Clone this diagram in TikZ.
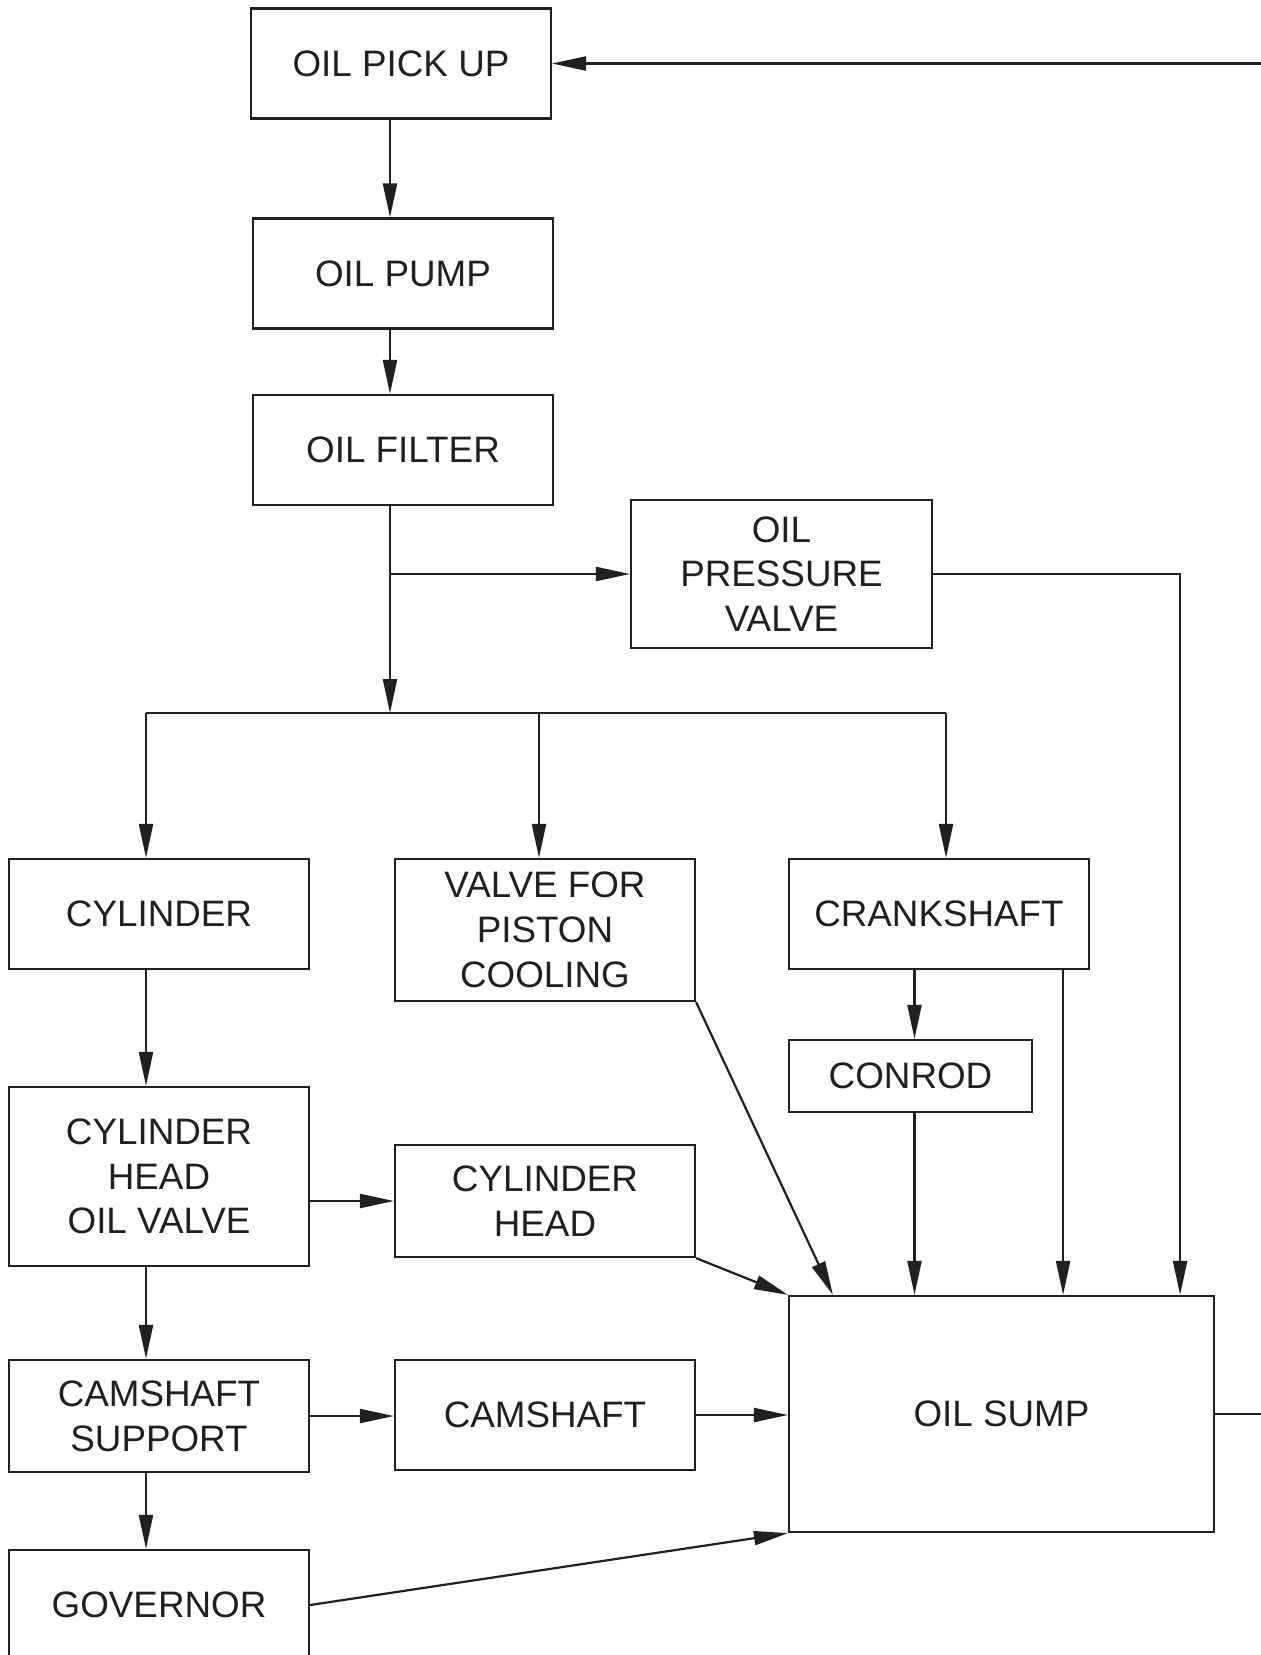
\documentclass[tikz,border=0pt]{standalone}
\usepackage{fontspec}
\setmainfont{Liberation Sans}
\usetikzlibrary{arrows.meta}
\definecolor{ink}{HTML}{231F20}

\begin{document}
\begin{tikzpicture}[x=0.5pt, y=-0.5pt, line width=1.1pt, color=ink,
    main/.style = {draw, rectangle, align=center, inner sep=0pt, minimum width=150pt, minimum height=55pt, font=\fontsize{18.4}{22.4}\selectfont},
    flow/.style = {-{Triangle[length=17pt, width=7pt]}}]

    \useasboundingbox (0,0) rectangle (1260,1655);

    \node[main] (1) at (401,63.5) {OIL PICK UP};
    \node[main] (2) at (403,273.5) {OIL PUMP};
    \node[main] (3) at (403,450) {OIL FILTER};
    \node[main, minimum width=150.5pt, minimum height=74pt] (4) at (781.5,574) {OIL\\PRESSURE\\VALVE};
    \node[main] (5) at (159,914) {CYLINDER};
    \node[main, minimum height=71pt] (6) at (545,930) {VALVE FOR\\PISTON\\COOLING};
    \node[main] (7) at (939,914) {CRANKSHAFT};
    \node[main, minimum width=121.5pt, minimum height=36pt] (8) at (910.5,1076) {CONROD};
    \node[main, minimum height=89.5pt] (9) at (159,1176.5) {CYLINDER\\HEAD\\OIL VALVE};
    \node[main, minimum height=56pt] (10) at (545,1201) {CYLINDER\\HEAD};
    \node[main, minimum height=56pt] (11) at (159,1416) {CAMSHAFT\\SUPPORT};
    \node[main] (12) at (545,1415) {CAMSHAFT};
    \node[main, minimum width=212.5pt, minimum height=118pt] (13) at (1001.5,1414) {OIL SUMP};
    \node[main] (14) at (159,1605) {GOVERNOR};

    \coordinate (t) at (390,713);
    \coordinate (b1) at (146,713);
    \coordinate (b2) at (539,713);
    \coordinate (b3) at (946,713);
    \coordinate (r) at ([xshift=2pt]8.north);

    \draw[flow] (1.south -| t) -- (2.north -| t);
    \draw[flow] (2.south -| t) -- (3.north -| t);
    \draw[flow] (3.south -| t) -- (t);
    \draw[flow] (t |- 4.west) -- (4.west);
    \draw[flow] (4.east) -| ([xshift=-17.5pt]13.north east);

    \draw (b1) -- (b3);
    \draw[flow] (b1) -- (b1 |- 5.north);
    \draw[flow] (b2) -- (b2 |- 6.north);
    \draw[flow] (b3) -- (b3 |- 7.north);

    \draw[flow] (5.south -| b1) -- (9.north -| b1);
    \draw[flow] (9.south -| b1) -- (11.north -| b1);
    \draw[flow] (11.south -| b1) -- (14.north -| b1);
    \draw[flow] (9.east |- 10.west) -- (10.west);
    \draw[flow] (11.east) -- (11.east -| 12.west);

    \draw[flow] (7.south -| r) -- (r);
    \draw[flow] (8.south -| r) -- (r |- 13.north);
    \draw[flow] ([xshift=-13.5pt]7.south east) -- ([xshift=-13.5pt]7.south east |- 13.north);
    \draw[flow] (6.south east) -- ([xshift=22.5pt]13.north west);
    \draw[flow] (10.south east) -- (13.north west);
    \draw[flow] (12.east) -- (12.east -| 13.west);
    \draw[flow] (14.east) -- (13.south west);

    \draw[flow] (13.east) -- ++(60,0) |- (1.east);

\end{tikzpicture}
\end{document}
